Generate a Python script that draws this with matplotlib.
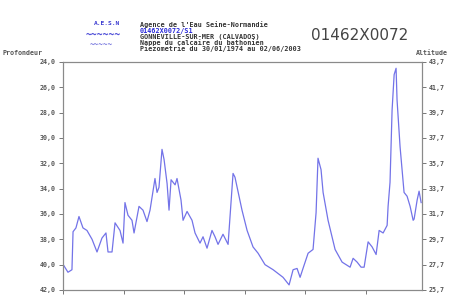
import matplotlib
matplotlib.use('Agg')
import matplotlib.pyplot as plt

# piezometre 01462X0072 - profondeur de la nappe (m), dates en annees decimales
annees = [1974.02, 1974.41, 1974.74, 1974.83, 1975.07, 1975.32, 1975.65, 1975.98,
          1976.40, 1976.81, 1977.22, 1977.55, 1977.72, 1978.05, 1978.30, 1978.71,
          1978.96, 1979.12, 1979.37, 1979.70, 1979.87, 1980.28, 1980.61, 1980.94,
          1981.19, 1981.60, 1981.77, 1981.93, 1982.18, 1982.35, 1982.60, 1982.76,
          1982.93, 1983.26, 1983.42, 1983.75, 1983.92, 1984.25, 1984.66, 1984.91,
          1985.32, 1985.57, 1985.90, 1986.31, 1986.56, 1986.81, 1987.22, 1987.64,
          1988.05, 1988.21, 1988.79, 1989.21, 1989.70, 1990.12, 1990.69, 1991.36,
          1992.18, 1992.68, 1993.01, 1993.34, 1993.59, 1993.83, 1994.25, 1994.66,
          1994.91, 1995.07, 1995.32, 1995.49, 1995.90, 1996.48, 1997.06, 1997.72,
          1997.97, 1998.30, 1998.63, 1998.88, 1999.21, 1999.54, 1999.87, 2000.12,
          2000.45, 2000.78, 2000.86, 2001.02, 2001.19, 2001.36, 2001.52, 2001.60,
          2001.85, 2002.18, 2002.43, 2002.68, 2002.93, 2003.01, 2003.26, 2003.42,
          2003.59]
profondeur = [40.0, 40.6, 40.4, 37.4, 37.1, 36.2, 37.1, 37.3,
              38.0, 39.0, 37.9, 37.5, 39.0, 39.0, 36.7, 37.3,
              38.3, 35.1, 36.1, 36.5, 37.5, 35.4, 35.7, 36.6,
              35.7, 33.2, 34.3, 33.9, 30.9, 31.7, 33.6, 35.7,
              33.3, 33.7, 33.2, 34.9, 36.5, 35.8, 36.5, 37.5,
              38.3, 37.8, 38.7, 37.3, 37.8, 38.4, 37.6, 38.4,
              32.8, 33.1, 35.7, 37.3, 38.6, 39.1, 40.0, 40.4,
              41.0, 41.6, 40.4, 40.3, 41.0, 40.3, 39.1, 38.8,
              35.9, 31.6, 32.5, 34.3, 36.5, 38.8, 39.8, 40.2,
              39.5, 39.8, 40.2, 40.2, 38.2, 38.6, 39.2, 37.3,
              37.5, 36.9, 35.4, 33.5, 27.8, 25.0, 24.5, 27.0,
              30.7, 34.3, 34.6, 35.4, 36.5, 36.4, 34.9, 34.2,
              35.1]

prof_ticks = [24, 26, 28, 30, 32, 34, 36, 38, 40, 42]
alt_ticks = [43.7, 41.7, 39.7, 37.7, 35.7, 33.7, 31.7, 29.7, 27.7, 25.7]
annee_ticks = [1974, 1979, 1984, 1989, 1994, 1999]

entete = ["Agence de l'Eau Seine-Normandie",
          "01462X0072/S1",
          "GONNEVILLE-SUR-MER (CALVADOS)",
          "Nappe du calcaire du bathonien",
          "Piezometrie du 30/01/1974 au 02/06/2003"]
code_bss = "01462X0072"


def Draw():
    fig = plt.figure(figsize=(4.5, 2.95), dpi=100)
    ax = fig.add_axes([0.14, 0.017, 0.798, 0.773])

    ax.plot(annees, profondeur, color='#7373e8', linewidth=0.9)
    ax.set_xlim(1974.0, 2003.67)
    ax.set_ylim(42, 24)

    mono = {'family': 'DejaVu Sans Mono', 'weight': 'bold', 'size': 4.8, 'color': '#555555'}
    ax.set_yticks(prof_ticks)
    ax.set_yticklabels(['%d,0' % v for v in prof_ticks], fontdict=mono)
    ax.set_xticks(annee_ticks)
    ax.set_xticklabels([])
    ax.tick_params(length=3, width=0.7, color='#777777', pad=2)

    ax2 = ax.twinx()
    ax2.set_ylim(67.7 - 42, 67.7 - 24)
    ax2.set_yticks(alt_ticks)
    ax2.set_yticklabels([('%.1f' % v).replace('.', ',') for v in alt_ticks], fontdict=mono)
    ax2.tick_params(length=3, width=0.7, color='#777777', pad=2)

    for a in (ax, ax2):
        for s in a.spines.values():
            s.set_color('#8a8a8a')
            s.set_linewidth(0.8)

    # en-tete
    fig.text(0.005, 0.81, 'Profondeur', fontdict=mono, va='bottom')
    fig.text(0.995, 0.81, 'Altitude', fontdict=mono, va='bottom', ha='right')

    fig.text(0.208, 0.915, 'A.E.S.N', family='DejaVu Sans Mono', weight='bold',
             size=4.5, color='#3a3ad0')
    fig.text(0.19, 0.872, '~~~~~~', family='DejaVu Sans Mono', weight='bold',
             size=7, color='#5050d8')
    fig.text(0.2, 0.838, '~~~~~', family='DejaVu Sans Mono', weight='bold',
             size=5.5, color='#8080e0')

    ys = [0.905, 0.885, 0.865, 0.843, 0.823]
    for i, ligne in enumerate(entete):
        col = '#2a2ad8' if i == 1 else '#333333'
        fig.text(0.311, ys[i], ligne, family='DejaVu Sans Mono', weight='bold',
                 size=4.9, color=col, va='bottom')
    fig.text(0.69, 0.855, code_bss, family='DejaVu Sans', size=11,
             color='#444444', va='bottom')

    fig.savefig('out.png', dpi=100)


def main():
    Draw()

if __name__ == '__main__':
    main()
